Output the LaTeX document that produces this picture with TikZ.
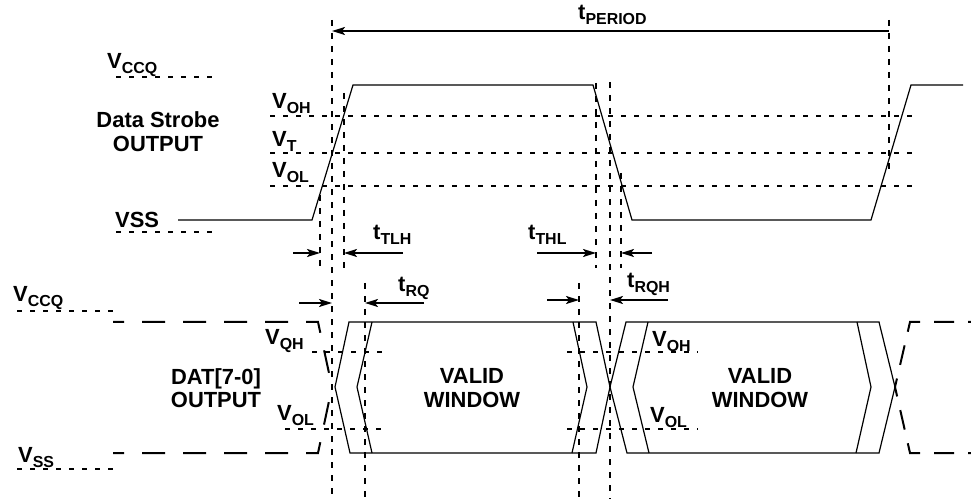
\documentclass[tikz,border=0pt]{standalone}
\usepackage{fontspec}
\setmainfont{Liberation Sans}
\usetikzlibrary{arrows.meta}

\newcommand{\lo}[1]{\raisebox{-5bp}{\fontsize{16}{16}\selectfont #1}}

\begin{document}
\begin{tikzpicture}[x=1bp, y=-1bp,
    lbl/.style={font=\fontsize{22}{26}\selectfont\bfseries, inner sep=0pt, anchor=base west},
    mid/.style={lbl, anchor=base},
    sig/.style={line width=1.2bp},
    level/.style={line width=1.8bp, dash pattern=on 5bp off 8bp},
    timeline/.style={line width=2bp, dash pattern=on 6bp off 7bp},
    bus/.style={line width=2bp, dash pattern=on 23bp off 18bp, dash phase=12bp},
    busr/.style={line width=2bp, dash pattern=on 20bp off 14bp, dash phase=17bp},
    dim/.style={line width=2bp, -{Stealth[length=13bp, width=8bp, inset=3bp]}}]
        \useasboundingbox (0,0) rectangle (971,499);

        % labels, strobe part
        \node[lbl] (vccqA) at (107,69) {V\lo{CCQ}};
        \node[mid] (dsA) at (158,128) {Data Strobe};
        \node[mid] (dsB) at (158,152) {OUTPUT};
        \node[lbl] (vohA) at (272,109) {V\lo{OH}};
        \node[lbl] (vtA) at (272,147) {V\lo{T}};
        \node[lbl] (volA) at (272,178) {V\lo{OL}};
        \node[lbl] (vssA) at (115,228) {VSS};
        \node[lbl] (tper) at (578,20) {t\lo{PERIOD}};
        \node[lbl] (ttlh) at (373,240) {t\lo{TLH}};
        \node[lbl] (tthl) at (528,240) {t\lo{THL}};
        \node[lbl] (trq) at (398,292) {t\lo{RQ}};
        \node[lbl] (trqh) at (627,288) {t\lo{RQH}};

        % labels, data part
        \node[lbl] (vccqB) at (13,302) {V\lo{CCQ}};
        \node[lbl] (vssB) at (18,462) {V\lo{SS}};
        \node[lbl] (vqhB) at (265,345) {V\lo{QH}};
        \node[lbl] (volB) at (277,420) {V\lo{OL}};
        \node[mid] (datA) at (216,385) {DAT[7-0]};
        \node[mid] (datB) at (216,407) {OUTPUT};
        \node[mid] (winA) at (472,384) {VALID};
        \node[mid] (winB) at (472,407) {WINDOW};
        \node[mid] (winC) at (760,384) {VALID};
        \node[mid] (winD) at (760,407) {WINDOW};
        \node[lbl] (vohC) at (652,347) {V\lo{OH}};
        \node[lbl] (volC) at (650,422) {V\lo{OL}};

        % levels
        \draw[level] (116,77) -- (217,77);
        \draw[level] (116,232) -- (217,232);
        \foreach \y in {116,153,186}
            \draw[level] (270,\y) -- (913,\y);
        \draw[level] (17,311) -- (118,311);
        \draw[level] (17,469) -- (118,469);
        \draw[level] (312,352) -- (388,352);
        \draw[level] (285,429) -- (388,429);
        \draw[level] (567,352) -- (698,352);
        \draw[level] (567,429) -- (698,429);

        % timing lines
        \foreach \x/\a/\b in {320/195/268, 332/20/497, 344/93/268, 365/283/499,
                579/283/499, 596/83/268, 610/82/499, 621/173/268, 889/20/173}
            \draw[timeline] (\x,\a) -- (\x,\b);

        % strobe
        \draw[sig] (178,220) -- (312,220) -- (353,85) -- (593,85) -- (632,220)
            -- (871,220) -- (911,85) -- (963,85);

        % data bus
        \draw[bus] (113,322) -- (318,322) -- (332,387);
        \draw[bus] (113,453) -- (318,453) -- (332,387);
        \draw[sig] (349,322) -- (596,322) -- (610,387) -- (596,453) -- (350,453) -- (335,387) -- cycle;
        \draw[sig] (372,322) -- (357,387) -- (372,453);
        \draw[sig] (573,322) -- (587,387) -- (572,453);
        \draw[sig] (626,322) -- (879,322) -- (895,387) -- (879,453) -- (627,453) -- (610,387) -- cycle;
        \draw[sig] (648,322) -- (633,387) -- (649,453);
        \draw[sig] (857,322) -- (871,387) -- (856,453);
        \draw[busr] (971,322) -- (910,322) -- (895,387);
        \draw[busr] (971,453) -- (910,453) -- (895,387);

        % arrows
        \coordinate (perL) at (332,31);
        \coordinate (perR) at (889,31);
        \draw[dim, {Stealth[length=13bp, width=8bp, inset=3bp]}-] (perL) -- (perR);
        \coordinate (tlh1) at (293,253);
        \coordinate (tlh2) at (320,253);
        \coordinate (tlh3) at (403,253);
        \coordinate (tlh4) at (344,253);
        \draw[dim] (tlh1) -- (tlh2);
        \draw[dim] (tlh3) -- (tlh4);
        \coordinate (thl1) at (537,253);
        \coordinate (thl2) at (596,253);
        \coordinate (thl3) at (652,253);
        \coordinate (thl4) at (621,253);
        \draw[dim] (thl1) -- (thl2);
        \draw[dim] (thl3) -- (thl4);
        \coordinate (rq1) at (299,303);
        \coordinate (rq2) at (332,303);
        \coordinate (rq3) at (424,303);
        \coordinate (rq4) at (365,303);
        \draw[dim] (rq1) -- (rq2);
        \draw[dim] (rq3) -- (rq4);
        \coordinate (rqh1) at (547,300);
        \coordinate (rqh2) at (579,300);
        \coordinate (rqh3) at (668,300);
        \coordinate (rqh4) at (610,300);
        \draw[dim] (rqh1) -- (rqh2);
        \draw[dim] (rqh3) -- (rqh4);
    \end{tikzpicture}
\end{document}
